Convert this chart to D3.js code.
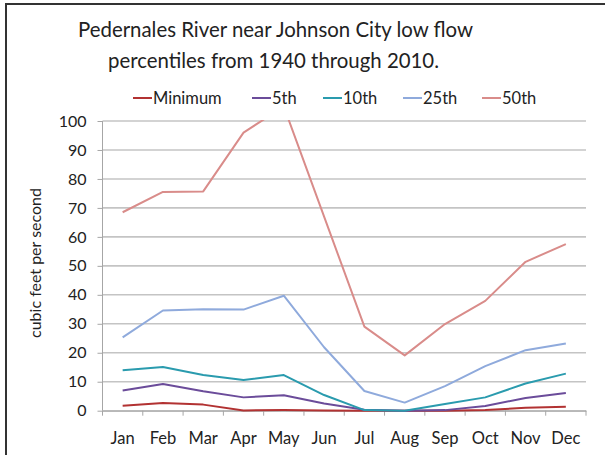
<!DOCTYPE html>
<html><head><meta charset="utf-8">
<script src="https://cdn.jsdelivr.net/npm/d3@7"></script>
<style>body{margin:0;background:#fff;} svg{display:block;}</style>
</head><body>
<script>
const months = ["Jan","Feb","Mar","Apr","May","Jun","Jul","Aug","Sep","Oct","Nov","Dec"];
const seriesNames = ["Minimum","5th","10th","25th","50th"];
const minimum = [1.7,2.7,2.1,0.1,0.2,0.1,0,0,0,0.2,1.0,1.4];
const p5 = [7.0,9.2,6.7,4.6,5.3,2.5,0.3,0,0.2,1.6,4.4,6.1];
const p10 = [14.0,15.1,12.3,10.6,12.3,5.4,0.2,0,2.3,4.6,9.4,12.8];
const p25 = [25.3,34.6,35.0,34.9,39.7,21.9,6.8,2.8,8.5,15.4,20.9,23.2];
const p50 = [68.5,75.5,75.7,96.0,105,67,29,19.1,29.9,37.9,51.4,57.5];
const yTicks = [0,10,20,30,40,50,60,70,80,90,100];
const colors = ["#B23232","#6B4C9A","#2A9BAE","#8FAADC","#D98C8A"];
const series = [minimum,p5,p10,p25,p50];

const W=605,H=455;
const svg=d3.select("body").append("svg").attr("width",W).attr("height",H);
const font="Lato, 'Open Sans', sans-serif";
svg.append("rect").attr("x",6).attr("y",4).attr("width",W+10).attr("height",H+10)
  .attr("fill","#fff").attr("stroke","#333").attr("stroke-width",2);

const m={l:102.5,r:586,t:121,b:410.7};
const x=d3.scaleBand().domain(months).range([m.l,m.r]);
const y=d3.scaleLinear().domain([0,100]).range([m.b,m.t]);

// gridlines
svg.append("g").selectAll("line").data(yTicks).join("line")
  .attr("x1",m.l).attr("x2",m.r).attr("y1",d=>y(d)).attr("y2",d=>y(d))
  .attr("stroke","#C4C4C4").attr("stroke-width",1.6);

// y axis
const ya=svg.append("g").attr("transform",`translate(${m.l},0)`)
  .call(d3.axisLeft(y).tickValues(yTicks).tickSize(5).tickPadding(11));
ya.select(".domain").attr("stroke","#A6A6A6").attr("d",`M-0,${m.t}V${m.b}`);
ya.selectAll(".tick line").attr("stroke","#A6A6A6");
ya.selectAll("text").attr("font-family",font).attr("font-size",16).attr("fill","#222");

// x axis
const xa=svg.append("g").attr("transform",`translate(0,${m.b})`)
  .call(d3.axisBottom(x).tickSize(0).tickPadding(22));
xa.select(".domain").attr("stroke","#A6A6A6");
xa.selectAll("text").attr("font-family",font).attr("font-size",16.5).attr("fill","#222");
const bounds=months.map(mo=>x(mo)).concat([m.r]);
xa.append("g").selectAll("line").data(bounds).join("line")
  .attr("x1",d=>d).attr("x2",d=>d).attr("y1",0).attr("y2",5).attr("stroke","#A6A6A6");

// clip
svg.append("clipPath").attr("id","clip").append("rect")
  .attr("x",m.l).attr("y",m.t-1).attr("width",m.r-m.l).attr("height",m.b-m.t+3);

const line=d3.line().x((d,i)=>x(months[i])+x.bandwidth()/2).y(d=>y(d));
svg.append("g").attr("clip-path","url(#clip)").selectAll("path").data(series).join("path")
  .attr("d",d=>line(d)).attr("fill","none").attr("stroke",(d,i)=>colors[i])
  .attr("stroke-width",2).attr("stroke-linejoin","round");

// title
svg.append("text").attr("x",275.5).attr("y",37).attr("text-anchor","middle")
  .attr("font-family",font).attr("font-size",21).attr("fill","#222")
  .attr("textLength",395).attr("lengthAdjust","spacingAndGlyphs")
  .text("Pedernales River near Johnson City low flow");
svg.append("text").attr("x",273.5).attr("y",68).attr("text-anchor","middle")
  .attr("font-family",font).attr("font-size",21).attr("fill","#222")
  .attr("textLength",331).attr("lengthAdjust","spacingAndGlyphs")
  .text("percentiles from 1940 through 2010.");

// y title
svg.append("text").attr("transform","translate(41,263) rotate(-90)").attr("text-anchor","middle")
  .attr("font-family",font).attr("font-size",16).attr("fill","#222").text("cubic feet per second");

// legend
const legX=[133,252,323,403,482];
const lg=svg.append("g").selectAll("g").data(seriesNames).join("g")
  .attr("transform",(d,i)=>`translate(${legX[i]},98)`);
lg.append("line").attr("x1",0).attr("x2",19).attr("stroke",(d,i)=>colors[i]).attr("stroke-width",2);
lg.append("text").attr("x",20).attr("y",6).attr("font-family",font).attr("font-size",16.5).attr("fill","#222").text(d=>d);
</script>
</body></html>
